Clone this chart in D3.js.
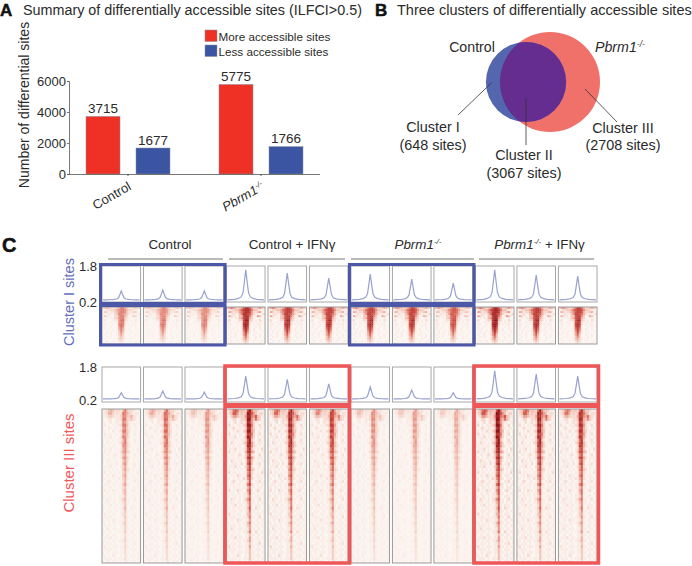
<!DOCTYPE html>
<html><head><meta charset="utf-8">
<script src="https://cdn.jsdelivr.net/npm/d3@7/dist/d3.min.js"></script>
<style>
html,body{margin:0;padding:0;background:#fff}
svg{display:block}
text{font-family:"Liberation Sans",Arial,sans-serif;fill:#2b2b2b}
</style></head><body>
<svg id="c" width="692" height="566"></svg>
<script>
// Panel A
const groups = ["Control", "Pbrm1"];
const seriesNames = ["More accessible sites", "Less accessible sites"];
const moreSites = [3715, 5775];
const lessSites = [1677, 1766];
const yTicks = [0, 2000, 4000, 6000];
// Panel B
const vennSets = ["Control", "Pbrm1"];
const vennSizes = [3715, 5775];
const clusterNames = ["Cluster I", "Cluster II", "Cluster III"];
const clusterSites = [648, 3067, 2708];
// Panel C
const conditions = ["Control", "Control + IFN\u03b3", "Pbrm1", "Pbrm1 + IFN\u03b3"];
const peakClusterI   = [0.66,0.70,0.66,1.62,1.48,1.25,1.43,1.20,1.02,1.62,1.39,1.34];
const peakClusterIII = [0.55,0.64,0.58,1.36,1.20,0.98,0.83,0.68,0.55,1.62,1.46,1.36];
const gainClusterI   = [0.62,0.58,0.58,1.0,0.95,0.9,0.92,0.88,0.78,1.05,0.95,0.9];
const gainClusterIII = [0.58,0.62,0.5,1.02,0.95,0.8,0.52,0.46,0.42,1.08,0.98,0.88];
const profileOffset = [-1,-.8,-.6,-.4,-.25,-.15,-.08,0,.08,.15,.25,.4,.6,.8,1];
const profileShape  = [0,.01,.02,.05,.1,.24,.58,1,.58,.24,.1,.05,.02,.01,0];
const heatClusterI = [
"3454323468864223432","1122334678875332110","0431224578874223410","1012113588764211012",
"0421103378853014310","0010113478842100100","1200012279932010210","0100101178821010100",
"0110010189820101100","0100100179710010100","0101000168610100100","0010010158510100010",
"0010100147410010000","0100100146300100100","0010100035300010100","0100000134210010000",
"0010010023200100010","0100000012100000100"];
const heatClusterIII = [
"1235653332695332111","1236642323986431221","1124432224885463211","1012201223994353201",
"1101201212874211011","1201011123995201201","1012101102784210110","1101021023994301101",
"1201101102775201201","0111201013984201011","1011010112693101201","1021101023794201110",
"1101011002884210101","0111201012683101021","1201101013784301011","1011012102572101201",
"1101011012784201110","1021101101573101011","1011110201683011201","0111201002472101101",
"1101010101573201011","1201101011462101021","1011021101572011101","1101011021462101110",
"1012101101361011201","0111011011572101011","1101101011351101110","1201021101461012101",
"1011011011361101011","1101101011251011101","1021101012461101201","0111011011351101011",
"1011201101251011101","1101011011361021101","1011101101251101011","1201011001341011101",
"0111101011251101201","1011021101141011011","1101011011351101101","0111101001241011011",
"1021011101141101101","1101101011251021011","1011011001131101101","0111201101141011011",
"1101011011241101101","1011101001131011201","1201011101141101011","0111101001131011101",
"1011011101131101011","1101021001031011101","0111101011131101011","1011011001021011101"];

const RED="#ee3124", BLUE="#3b55a3", FRAME_BLUE="#4c57a8", FRAME_RED="#ef5658";
const svg=d3.select("#c");
const txt=(s,x,y,size,anchor,extra)=>{const t=svg.append("text").attr("x",x).attr("y",y).attr("font-size",size).attr("text-anchor",anchor||"start").text(s);if(extra)extra(t);return t;};
const letter=(s,x,y,size)=>txt(s,x,y,size,"start",t=>t.style("font-family",'"Liberation Sans Narrow","Liberation Sans"').attr("font-weight","bold").style("fill","#111").attr("stroke","#111").attr("stroke-width",.5));
function pbrm(t,size,rest){ // italic name + superscript
  t.text(null);
  t.append("tspan").attr("font-style","italic").text("Pbrm1");
  t.append("tspan").attr("font-style","italic").attr("font-size",size*0.6).attr("dy",-size*0.35).text("-/-");
  if(rest)t.append("tspan").attr("dy",size*0.35).text(rest);
}

/* ---------- A ---------- */
letter("A",0,15.5,17);
txt("Summary of differentially accessible sites (ILFCI>0.5)",23,15,14.35);
const y=d3.scaleLinear().domain([0,6000]).range([174,81]);
const x0=d3.scaleBand().domain(groups).range([61.5,327.5]);
const x1=d3.scaleBand().domain(seriesNames).range([16.5,116.5]).paddingInner(.32).paddingOuter(.16);
const color=d3.scaleOrdinal().domain(seriesNames).range([RED,BLUE]);
const bars=groups.flatMap((g,i)=>[{g,s:seriesNames[0],v:moreSites[i]},{g,s:seriesNames[1],v:lessSites[i]}]);
svg.append("g").selectAll("rect").data(bars).join("rect")
  .attr("x",d=>x0(d.g)+x1(d.s)).attr("width",x1.bandwidth())
  .attr("y",d=>y(d.v)).attr("height",d=>y(0)-y(d.v))
  .attr("fill",d=>color(d.s)).attr("stroke","#8a8f9c").attr("stroke-width",.5);
svg.append("g").selectAll("text").data(bars).join("text")
  .attr("x",d=>x0(d.g)+x1(d.s)+x1.bandwidth()/2).attr("y",d=>y(d.v)-3.5)
  .attr("text-anchor","middle").attr("font-size",13.5).text(d=>d.v);
const yAxis=svg.append("g").attr("transform","translate(69,0)").call(d3.axisLeft(y).tickValues(yTicks).tickSize(2).tickPadding(1).tickFormat(d3.format("d")));
yAxis.selectAll("text").attr("font-size",13).attr("fill",null);
yAxis.selectAll("path,line").attr("stroke","#555").attr("stroke-width",.8);
const xAxis=svg.append("g").attr("transform","translate(0,174)").call(d3.axisBottom(x0).tickSize(2).tickSizeOuter(0));
xAxis.select("path").attr("d","M69,0.5H320").attr("stroke","#555").attr("stroke-width",.8);
xAxis.selectAll("line").attr("stroke","#555");
xAxis.selectAll("text").attr("font-size",13).attr("text-anchor","end").attr("fill",null)
  .attr("transform","rotate(-30)").attr("dx","-4").attr("dy","10")
  .each(function(d){if(d==="Pbrm1")pbrm(d3.select(this),13);});
svg.append("text").attr("transform","translate(29,105) rotate(-90)").attr("text-anchor","middle").attr("font-size",14).text("Number of differential sites");
const leg=svg.append("g").selectAll("g").data(seriesNames).join("g").attr("transform",(d,i)=>`translate(205,${30+i*15})`);
leg.append("rect").attr("width",12).attr("height",11.5).attr("fill",d=>color(d)).attr("stroke","#8a8f9c").attr("stroke-width",.5);
leg.append("text").attr("x",13.5).attr("y",10.5).attr("font-size",11.7).text(d=>d);

/* ---------- B ---------- */
letter("B",375,15.5,17);
txt("Three clusters of differentially accessible sites",397,15,14.5);
const r=d3.scaleSqrt().domain([0,d3.max(vennSizes)]).range([0,50]);
const cy=82, cxCtl=526, cxPb=550;
svg.append("clipPath").attr("id","ctlClip").append("circle").attr("cx",cxCtl).attr("cy",cy).attr("r",r(vennSizes[0]));
svg.append("circle").attr("cx",cxPb).attr("cy",cy).attr("r",r(vennSizes[1])).attr("fill","#f0716a");
svg.append("circle").attr("cx",cxCtl).attr("cy",cy).attr("r",r(vennSizes[0])).attr("fill","#5366ae");
svg.append("circle").attr("cx",cxPb).attr("cy",cy).attr("r",r(vennSizes[1])).attr("fill","#652d90").attr("clip-path","url(#ctlClip)");
[[491.7,82.7,458,115],[526,98,526,145],[585,89,617,122]].forEach(l=>svg.append("line").attr("x1",l[0]).attr("y1",l[1]).attr("x2",l[2]).attr("y2",l[3]).attr("stroke","#333").attr("stroke-width",.8));
txt(vennSets[0],472,52,14.2,"middle");
pbrm(txt("",595,52,14.2),14.2);
[[433,132,150],[524,160,178],[623,133,150]].forEach((p,i)=>{
  txt(clusterNames[i],p[0],p[1],14.4,"middle");
  txt(`(${clusterSites[i]} sites)`,p[0],p[2],14.4,"middle");
});

/* ---------- C ---------- */
letter("C",2,252,20);
const px=d3.scaleBand().domain(d3.range(12)).range([102,597]).paddingInner(.07);
const bw=px.bandwidth();
const heatColor=d3.scaleLinear().domain([0,1,3,6,9,11]).range(["#fcf6f3","#f9ebe5","#f2c3b5","#d65a4e","#9c1d20","#6d0c10"]).clamp(true);
const defs=svg.append("defs");
defs.append("filter").attr("id","soft").attr("x","-5%").attr("y","-5%").attr("width","110%").attr("height","110%")
  .append("feGaussianBlur").attr("stdDeviation",.5);
const rows=[
 {lineTop:266,lineBot:302,y18:266,y02:301,heatTop:307,heatBot:344,peaks:peakClusterI,gains:gainClusterI,heat:heatClusterI},
 {lineTop:367,lineBot:402,y18:367,y02:400,heatTop:409,heatBot:563,peaks:peakClusterIII,gains:gainClusterIII,heat:heatClusterIII}
];
rows.forEach((R,ri)=>{
  const ly=d3.scaleLinear().domain([.2,1.8]).range([R.y02,R.y18]);
  const nCols=R.heat[0].length;
  const hx=d3.scaleBand().domain(d3.range(nCols)).range([0,bw]);
  const hy=d3.scaleBand().domain(d3.range(R.heat.length)).range([R.heatTop,R.heatBot]);
  d3.range(12).forEach(p=>{
    const X=px(p);
    const cid=`hc${ri}_${p}`;
    svg.append("clipPath").attr("id",cid).append("rect").attr("x",X).attr("y",R.heatTop).attr("width",bw).attr("height",R.heatBot-R.heatTop);
    const outer=svg.append("g").attr("clip-path",`url(#${cid})`);
    outer.append("rect").attr("x",X).attr("y",R.heatTop).attr("width",bw).attr("height",R.heatBot-R.heatTop).attr("fill","#fbf4f0");
    const g=outer.append("g").attr("filter","url(#soft)").attr("transform",`translate(${X},0)`);
    const cells=R.heat.flatMap((row,i)=>row.split("").map((c,j)=>({i,j,v:+c*R.gains[p]})));
    g.selectAll("rect").data(cells).join("rect")
      .attr("x",d=>hx(d.j)).attr("y",d=>hy(d.i)).attr("width",hx.bandwidth()+.3).attr("height",hy.bandwidth()+.3)
      .attr("fill",d=>heatColor(d.v));
    svg.append("rect").attr("x",X).attr("y",R.heatTop).attr("width",bw).attr("height",R.heatBot-R.heatTop)
      .attr("fill","none").attr("stroke","#9a9a9a").attr("stroke-width",1);
    // line panel
    svg.append("rect").attr("x",X).attr("y",R.lineTop).attr("width",bw).attr("height",R.lineBot-R.lineTop)
      .attr("fill","#fff").attr("stroke","#a8a8a8").attr("stroke-width",1);
    const lx=d3.scaleLinear().domain([-1,1]).range([X+1,X+bw-1]);
    const base=.25;
    const line=d3.line().x(d=>lx(d[0])).y(d=>ly(d[1]));
    svg.append("path").attr("fill","none").attr("stroke","#9aa2cf").attr("stroke-width",1.2)
      .attr("d",line(profileOffset.map((o,i)=>[o,base+profileShape[i]*(R.peaks[p]-base)])));
  });
  txt("1.8",97,R.y18+5,13,"end");
  txt("0.2",97,R.y02+(ri?5:6),13,"end");
});
// condition headers
const condSpan=[[108,223],[229,345],[351,474],[479,594]];
const condLabelX=[170,292,418,539.5];
conditions.forEach((c,i)=>{
  const [a,b]=condSpan[i];
  svg.append("line").attr("x1",a).attr("x2",b).attr("y1",259).attr("y2",259).attr("stroke","#666").attr("stroke-width",.9);
  const t=txt(c,condLabelX[i],249,13.4,"middle");
  if(i===2)pbrm(t,13.4);
  if(i===3)pbrm(t,13.4," + IFN\u03b3");
});
// highlighted frames
function frame(first,last,top,bot,mid,col,sw,mh){
  const a=px(first)-1.5,b=px(last)+bw+1.5;
  svg.append("rect").attr("x",a).attr("y",top).attr("width",b-a).attr("height",bot-top).attr("fill","none").attr("stroke",col).attr("stroke-width",sw);
  svg.append("rect").attr("x",a).attr("y",mid-mh/2).attr("width",b-a).attr("height",mh).attr("fill",col);
}
frame(0,2,264.5,345,304.5,FRAME_BLUE,3,5);
frame(6,8,264.5,345,304.5,FRAME_BLUE,3,5);
frame(3,5,366,563,405.5,FRAME_RED,3.5,5);
frame(9,11,366,563,405.5,FRAME_RED,3.5,5);
svg.append("text").attr("transform","translate(74,302) rotate(-90)").attr("text-anchor","middle").attr("font-size",14.5).style("fill","#6570bb").text("Cluster I sites");
svg.append("text").attr("transform","translate(74,463) rotate(-90)").attr("text-anchor","middle").attr("font-size",15).style("fill","#f0585c").text("Cluster III sites");
</script>
</body></html>
